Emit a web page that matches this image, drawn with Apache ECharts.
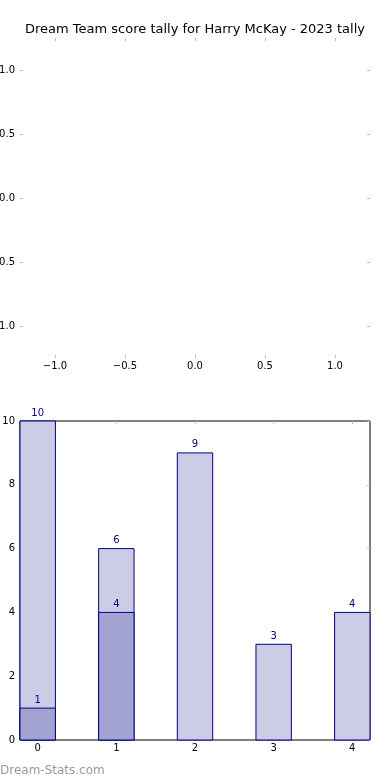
<!DOCTYPE html>
<html>
<head>
<meta charset="utf-8">
<script src="https://cdn.jsdelivr.net/npm/echarts@6/dist/echarts.min.js"></script>
<style>html,body{margin:0;padding:0;background:#fff}#c{width:390px;height:780px}</style>
</head>
<body>
<div id="c"></div>
<script>
const titleText = 'Dream Team score tally for Harry McKay - 2023 tally';
const emptyTicks = [-1.0, -0.5, 0.0, 0.5, 1.0];
const categories = [0, 1, 2, 3, 4];
const totalValues = [10, 6, 9, 3, 4];
const innerValues = [1, 4, 0, 0, 0];

const FONT = 'DejaVu Sans';
const tickGray = '#b8b8b8';
const navy = '#000080';
const fmtMinus = v => (v < 0 ? '\u2212' : '') + Math.abs(v).toFixed(1);

function tickAxis(extra) {
  return Object.assign({
    axisLine: {show: false, onZero: false},
    splitLine: {show: false},
    axisTick: {show: true, inside: true, length: 3, lineStyle: {color: tickGray, width: 1}},
    axisLabel: {show: false}
  }, extra);
}
const lbl = (extra) => Object.assign({show: true, color: '#000', fontFamily: FONT, fontSize: 10}, extra);
const tk = (vals) => ({show: true, inside: true, length: 3, customValues: vals, lineStyle: {color: tickGray}});

function barRender(fill) {
  return function (params, api) {
    const x = api.value(0), v = api.value(1);
    const base = api.coord([x, 0]);
    const top = api.coord([x, v]);
    const w = api.size([0.45, 0])[0];
    return {
      type: 'group',
      children: [
        {type: 'rect', shape: {x: base[0] - w / 2, y: top[1], width: w, height: base[1] - top[1]},
         style: {fill: fill, stroke: navy, lineWidth: 1}},
        {type: 'text', x: top[0], y: top[1] - 3,
         style: {text: String(v), fill: navy, font: '10px "DejaVu Sans"', textAlign: 'center', textVerticalAlign: 'bottom'}}
      ]
    };
  };
}

const totalData = categories.map((c, i) => [c, totalValues[i]]);
const innerData = categories.map((c, i) => [c, innerValues[i]]).filter(d => d[1] > 0);

const chart = echarts.init(document.getElementById('c'), null, {renderer: 'canvas'});
chart.setOption({
  animation: false,
  backgroundColor: '#fff',
  graphic: [
    {type: 'text', x: 195, y: 30, style: {text: titleText, font: '13px "DejaVu Sans"', fill: '#000', textAlign: 'center', textVerticalAlign: 'middle'}},
    {type: 'text', x: 0, y: 771, style: {text: 'Dream-Stats.com', font: '12px "DejaVu Sans"', fill: '#999999', textAlign: 'left', textVerticalAlign: 'middle'}}
  ],
  grid: [
    {left: 20, top: 38, width: 350, height: 320, show: false, containLabel: false, outerBoundsMode: 'none'},
    {left: 20, top: 421, width: 350, height: 319, show: true, borderColor: '#000', borderWidth: 1, backgroundColor: 'transparent', containLabel: false, outerBoundsMode: 'none'}
  ],
  xAxis: [
    tickAxis({type: 'value', gridIndex: 0, position: 'bottom', min: -1.25, max: 1.25,
      axisTick: tk(emptyTicks),
      axisLabel: lbl({customValues: emptyTicks, margin: 3, formatter: fmtMinus})}),
    tickAxis({type: 'value', gridIndex: 0, position: 'top', min: -1.25, max: 1.25,
      axisTick: tk(emptyTicks)}),
    tickAxis({type: 'value', gridIndex: 1, position: 'bottom', min: -0.225, max: 4.225,
      axisTick: tk(categories),
      axisLabel: lbl({customValues: categories, margin: 3, formatter: v => String(v)})}),
    tickAxis({type: 'value', gridIndex: 1, position: 'top', min: -0.225, max: 4.225,
      axisTick: tk(categories)})
  ],
  yAxis: [
    tickAxis({type: 'value', gridIndex: 0, position: 'left', min: -1.25, max: 1.25,
      axisTick: tk(emptyTicks),
      axisLabel: lbl({customValues: emptyTicks, margin: 5, formatter: fmtMinus})}),
    tickAxis({type: 'value', gridIndex: 0, position: 'right', min: -1.25, max: 1.25,
      axisTick: tk(emptyTicks)}),
    tickAxis({type: 'value', gridIndex: 1, position: 'left', min: 0, max: 10, interval: 2,
      axisTick: {show: true, inside: true, length: 3, lineStyle: {color: tickGray}},
      axisLabel: lbl({margin: 5, formatter: v => String(v)})}),
    tickAxis({type: 'value', gridIndex: 1, position: 'right', min: 0, max: 10, interval: 2,
      axisTick: {show: true, inside: true, length: 3, lineStyle: {color: tickGray}}})
  ],
  series: [
    {type: 'custom', xAxisIndex: 2, yAxisIndex: 2, clip: false, renderItem: barRender('#CCCCE6'), data: totalData, z: 2},
    {type: 'custom', xAxisIndex: 2, yAxisIndex: 2, clip: false, renderItem: barRender('#A3A3D1'), data: innerData, z: 3}
  ]
});
</script>
</body>
</html>
